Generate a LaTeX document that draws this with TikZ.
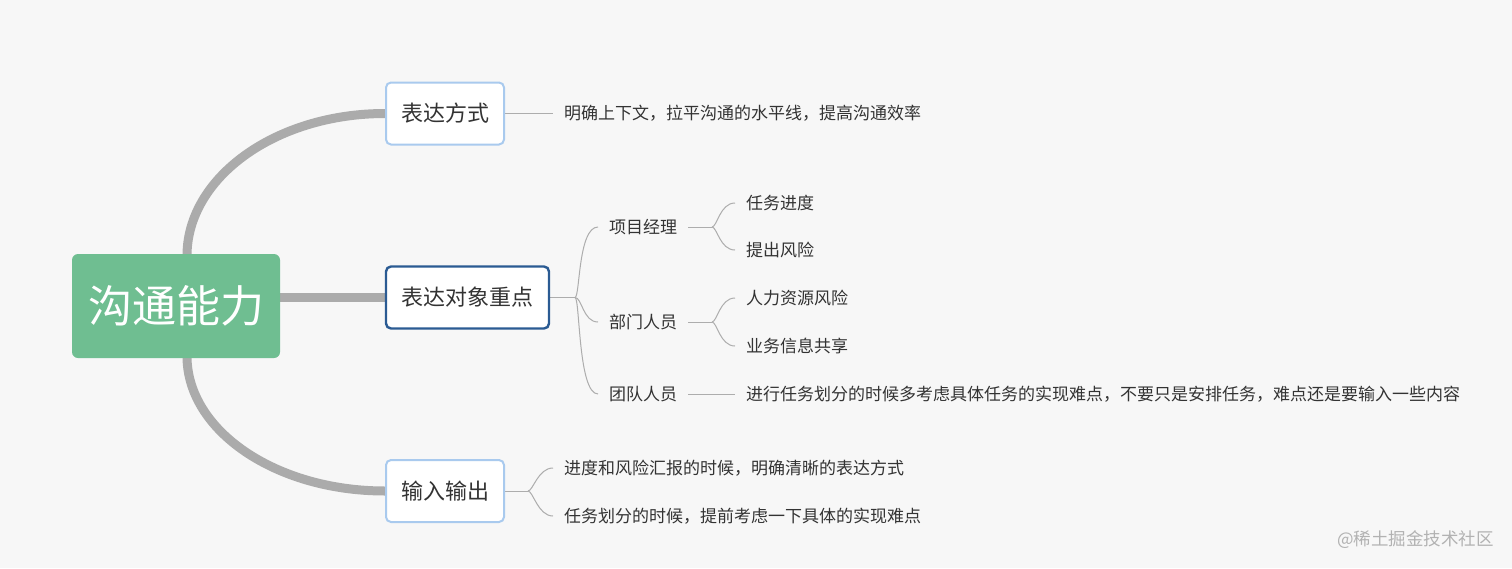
\documentclass[tikz,border=0pt]{standalone}
\usepackage{fontspec}
\newfontfamily\cjk{Noto Sans CJK SC}
\definecolor{bgc}{HTML}{F7F7F7}
\definecolor{rootc}{HTML}{6FBE91}
\definecolor{thickc}{HTML}{ABABAB}
\definecolor{thinc}{HTML}{ADADAD}
\definecolor{lightb}{HTML}{A9CAEE}
\definecolor{darkb}{HTML}{2B5B93}
\definecolor{txtc}{HTML}{333333}
\definecolor{wmc}{HTML}{B2B2B2}
\pgfdeclarelayer{bg}
\pgfsetlayers{bg,main}
\tikzset{
  rootbox/.style={fill=rootc, rounded corners=6pt, minimum width=208pt, minimum height=104pt,
    text=white, font=\cjk\fontsize{44}{50}\selectfont, inner sep=0pt},
  mainbox/.style={fill=white, draw=lightb, line width=2pt, rounded corners=5pt,
    minimum height=62pt, text=txtc, font=\cjk\fontsize{22}{26}\selectfont, inner sep=0pt},
  selbox/.style={mainbox, draw=darkb, line width=2.4pt},
  leaf/.style={anchor=west, text=txtc, font=\cjk\fontsize{17}{20}\selectfont, inner xsep=11pt, inner ysep=2pt},
  thickline/.style={draw=thickc, line width=9pt},
  thinline/.style={draw=thinc, line width=1pt},
}
\begin{document}
\begin{tikzpicture}[x=1pt,y=-1pt]
\begin{pgfonlayer}{bg}
\fill[bgc] (0,0) rectangle (1512,568);
\end{pgfonlayer}
\useasboundingbox (0,0) rectangle (1512,568);

\node[rootbox] (root) at (176,306) {沟通能力};
\node[mainbox, minimum width=118pt] (b1) at (445,113.5) {表达方式};
\node[selbox, minimum width=163pt] (b2) at (467.5,297.5) {表达对象重点};
\node[mainbox, minimum width=118pt] (b3) at (445,491) {输入输出};

% branch 1
\node[leaf] (t1) at (553,113.5) {明确上下文，拉平沟通的水平线，提高沟通效率};

% branch 2
\coordinate (f2) at (575,297.5);
\node[leaf] (c1) at (598,227) {项目经理};
\node[leaf] (c2) at (598,322) {部门人员};
\node[leaf] (c3) at (598,394) {团队人员};
\coordinate (f21) at (712,227);
\coordinate (f22) at (712,322);
\node[leaf] (g1) at (735,203) {任务进度};
\node[leaf] (g2) at (735,250) {提出风险};
\node[leaf] (g3) at (735,298) {人力资源风险};
\node[leaf] (g4) at (735,346) {业务信息共享};
\node[leaf] (g5) at (735,394) {进行任务划分的时候多考虑具体任务的实现难点，不要只是安排任务，难点还是要输入一些内容};

% branch 3
\coordinate (f3) at (528,491);
\node[leaf] (h1) at (553,468) {进度和风险汇报的时候，明确清晰的表达方式};
\node[leaf] (h2) at (553,516) {任务划分的时候，提前考虑一下具体的实现难点};

% watermark
\node[anchor=east, text=wmc, font=\cjk\fontsize{17.5}{20}\selectfont, inner sep=0pt] (wm) at (1494,540) {@稀土掘金技术社区};

\begin{pgfonlayer}{bg}
\draw[thickline] ([xshift=11pt,yshift=-2pt]root.north) .. controls +(0,-78) and +(-110,0) .. (b1.west);
\draw[thickline] ([xshift=11pt,yshift=2pt]root.south) .. controls +(0,74) and +(-110,0) .. (b3.west);
\draw[thickline] (root.east |- b2.west) -- (b2.west);

\draw[thinline] (b1.east) -- (t1.west);

\draw[thinline] (b2.east) -- (f2);
\draw[thinline] (f2) .. controls +(5,0) and +(-20,0) .. (c1.west);
\draw[thinline] (f2) .. controls +(7,0) and +(-15,0) .. (c2.west);
\draw[thinline] (f2) .. controls +(5,0) and +(-20,0) .. (c3.west);
\draw[thinline] (c1.east) -- (f21);
\draw[thinline] (c2.east) -- (f22);
\draw[thinline] (f21) .. controls +(5,0) and +(-15,0) .. (g1.west);
\draw[thinline] (f21) .. controls +(5,0) and +(-15,0) .. (g2.west);
\draw[thinline] (f22) .. controls +(5,0) and +(-15,0) .. (g3.west);
\draw[thinline] (f22) .. controls +(5,0) and +(-15,0) .. (g4.west);
\draw[thinline] (c3.east) -- (g5.west);

\draw[thinline] (b3.east) -- (f3);
\draw[thinline] (f3) .. controls +(5,0) and +(-15,0) .. (h1.west);
\draw[thinline] (f3) .. controls +(5,0) and +(-15,0) .. (h2.west);
\end{pgfonlayer}
\end{tikzpicture}
\end{document}
